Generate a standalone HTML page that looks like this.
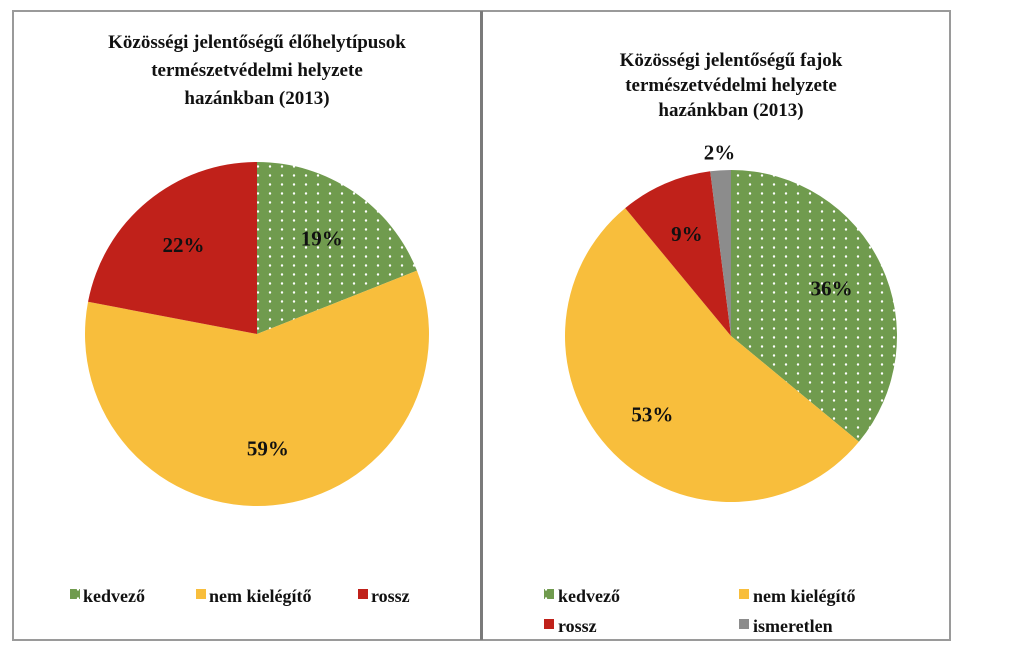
<!DOCTYPE html>
<html><head><meta charset="utf-8"><style>
html,body{margin:0;padding:0;background:#fff;}
svg{display:block;font-family:"Liberation Serif",serif;}
</style></head><body>
<svg width="1023" height="658" viewBox="0 0 1023 658">
<defs>
<pattern id="dots" width="12" height="9" patternUnits="userSpaceOnUse">
<rect width="12" height="9" fill="#709b4e"/>
<circle cx="6" cy="4.5" r="1.2" fill="#fff"/>
</pattern>
</defs>
<rect x="13" y="11" width="937" height="629" fill="#fff" stroke="#9a9a9a" stroke-width="2"/>
<line x1="481.5" y1="11" x2="481.5" y2="640" stroke="#7a7a7a" stroke-width="3"/>
<g font-weight="bold" font-size="19" text-anchor="middle" fill="#111">
<text x="257" y="48">Közösségi jelentőségű élőhelytípusok</text>
<text x="257" y="76">természetvédelmi helyzete</text>
<text x="257" y="104">hazánkban (2013)</text>
</g>
<g font-weight="bold" font-size="19" text-anchor="middle" fill="#111">
<text x="731" y="66">Közösségi jelentőségű fajok</text>
<text x="731" y="91">természetvédelmi helyzete</text>
<text x="731" y="116">hazánkban (2013)</text>
</g>
<g id="pieL"></g>
<g id="pieR"></g>
<g font-weight="bold" font-size="18" fill="#111">
<rect x="70" y="589" width="10" height="10" fill="url(#dots)"/><text x="83" y="602">kedvező</text>
<rect x="196" y="589" width="10" height="10" fill="#f8be3c"/><text x="209" y="602">nem kielégítő</text>
<rect x="358" y="589" width="10" height="10" fill="#c0211a"/><text x="371" y="602">rossz</text>
</g>
<g font-weight="bold" font-size="18" fill="#111">
<rect x="544" y="589" width="10" height="10" fill="url(#dots)"/><text x="558" y="602">kedvező</text>
<rect x="739" y="589" width="10" height="10" fill="#f8be3c"/><text x="753" y="602">nem kielégítő</text>
<rect x="544" y="619" width="10" height="10" fill="#c0211a"/><text x="558" y="632">rossz</text>
<rect x="739" y="619" width="10" height="10" fill="#8c8c8c"/><text x="753" y="632">ismeretlen</text>
</g>
</svg>
<script>
const leftCategories = ["kedvező","nem kielégítő","rossz"];
const leftValues = [19,59,22];
const rightCategories = ["kedvező","nem kielégítő","rossz","ismeretlen"];
const rightValues = [36,53,9,2];
const colorsByCat = {"kedvező":"url(#dots)","nem kielégítő":"#f8be3c","rossz":"#c0211a","ismeretlen":"#8c8c8c"};
const NS="http://www.w3.org/2000/svg";
function drawPie(gid, cats, vals, cx, cy, r, labelR, outsideIdx){
  const g=document.getElementById(gid);
  const total=vals.reduce((a,b)=>a+b,0);
  let a0=0;
  vals.forEach((v,i)=>{
    const a1=a0+v/total*2*Math.PI;
    const p=(a)=>[cx+r*Math.sin(a), cy-r*Math.cos(a)];
    const s=p(a0), e=p(a1);
    const large=(a1-a0)>Math.PI?1:0;
    const path=document.createElementNS(NS,"path");
    path.setAttribute("d",`M${cx},${cy} L${s[0]},${s[1]} A${r},${r} 0 ${large} 1 ${e[0]},${e[1]} Z`);
    path.setAttribute("fill",colorsByCat[cats[i]]);
    
    
    g.appendChild(path);
    const am=(a0+a1)/2;
    const lr = i===outsideIdx ? r+18 : r*labelR;
    const t=document.createElementNS(NS,"text");
    t.setAttribute("x",cx+lr*Math.sin(am));
    t.setAttribute("y",cy-lr*Math.cos(am)+7);
    t.setAttribute("text-anchor","middle");
    t.setAttribute("font-weight","bold");
    t.setAttribute("font-size","21");
    t.setAttribute("fill","#111");
    t.textContent=v+"%";
    
    
    g.appendChild(t);
    a0=a1;
  });
}
drawPie("pieL",leftCategories,leftValues,257,334,172,0.67,-1);
drawPie("pieR",rightCategories,rightValues,731,336,166,0.67,3);
</script>
</body></html>
